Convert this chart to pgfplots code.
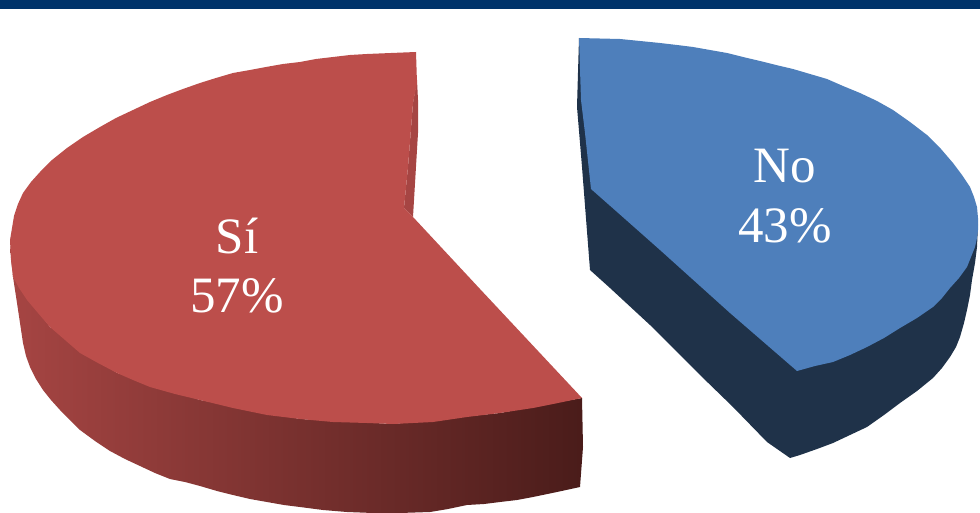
\documentclass[border=0pt]{standalone}
\usepackage{fontspec}
\setmainfont{Liberation Serif}
\usepackage{pgfplots}
\pgfplotsset{compat=1.18}
\definecolor{barra}{HTML}{00336A}
\definecolor{rojo}{HTML}{BC4E4B}
\definecolor{rojomuro}{HTML}{A64543}
\definecolor{rojomedio}{HTML}{782F2D}
\definecolor{rojofin}{HTML}{4A1C1A}
\definecolor{azul}{HTML}{4E7FBB}
\definecolor{azulosc}{HTML}{1F3249}
\newcommand{\etiq}{\fontsize{51}{51}\selectfont\color{white}}
\begin{document}
\begin{tikzpicture}
\begin{axis}[
    width=980pt,
    height=520pt,
    scale only axis,
    hide axis,
    xmin=0, xmax=980,
    ymin=0, ymax=520,
    y dir=reverse,
]
% top bar
\addplot[fill=barra, draw=none] coordinates {(0,0) (980,0) (980,9.5) (0,9.5)} -- cycle;
% red slice, side
\addplot[draw=none, left color=rojomuro, middle color=rojomedio, right color=rojofin] coordinates {
  (10,240) (11,258) (13,277) (15,290) (17,303) (20,323) (23,343) (26,356) (30,367) (36,379) (43,390) (51,400)
  (60,410) (70,420) (80,430) (95,441) (110,451) (125,459) (140,466) (155,473) (170,479) (185,482) (200,486)
  (217,491) (233,495) (250,499) (267,502) (284,505) (300,507) (323,510) (347,512) (373,513) (400,513)
  (430,512) (448,509) (467,505) (484,504) (500,502) (517,500) (533,497) (557,492) (580,487)
  (583,447) (582,398) (500,413) (393,424) (300,419) (200,400) (117,373) (50,327) (13,277)} -- cycle;
% red slice, inner wall
\addplot[fill=rojomuro, draw=none] coordinates {(417,80) (418,100) (418,133) (413,217) (404,208) (408,167) (413,103)} -- cycle;
% red slice, top
\addplot[fill=rojo, draw=none] coordinates {
  (416,52) (417,83) (413,103) (408,167) (404,208) (413,217) (480,289) (582,398)
  (558,403) (533,408) (500,413) (467,417) (433,422) (393,424) (367,423) (333,422) (300,419) (267,415)
  (233,408) (200,400) (175,394) (150,387) (133,380) (117,373) (98,363) (80,353) (65,340) (50,327)
  (38,313) (27,300) (19,288) (13,277) (11,260) (10,240)
  (12,228) (14,216) (18,204) (23,193) (31,182) (40,172) (52,160) (67,148) (83,137) (100,127)
  (116,118) (133,110) (150,102) (167,95) (183,89) (200,83) (216,78) (233,73) (250,70) (266,67)
  (283,64) (300,62) (316,59) (333,57) (350,55) (367,54) (391,53)} -- cycle;
% blue slice, side
\addplot[fill=azulosc, draw=none] coordinates {
  (579,38) (577,107) (582,167) (590,270) (610,288) (650,325) (700,375) (733,407) (767,442) (790,458)
  (800,455) (817,449) (833,443) (850,435) (867,427) (884,415) (900,403) (917,391) (933,378) (942,368)
  (950,357) (956,347) (960,337) (964,323) (967,310) (970,295) (972,280) (975,263) (977,247) (978,225)} -- cycle;
% blue slice, top
\addplot[fill=azul, draw=none] coordinates {
  (579,38) (581,100) (585,133) (591,189) (625,219) (660,250) (730,313) (797,371)
  (815,366) (833,362) (850,355) (867,347) (884,338) (900,328) (917,318) (933,307) (942,298) (950,288)
  (959,278) (967,267) (971,257) (975,247) (977,238) (978,230) (978,218) (977,207) (974,197) (970,187)
  (962,175) (953,163) (941,149) (927,135) (910,122) (893,110) (877,101) (860,93) (843,86) (827,79)
  (810,74) (793,69) (776,65) (760,61) (743,57) (727,53) (710,50) (693,47) (677,45) (660,43) (620,39)} -- cycle;
\node[text=white] at (axis cs:237,236) {\etiq Sí};
\node[text=white] at (axis cs:237,296) {\etiq 57\%};
\node[text=white] at (axis cs:785,166) {\etiq No};
\node[text=white] at (axis cs:785,226) {\etiq 43\%};
\end{axis}
\end{tikzpicture}
\end{document}
